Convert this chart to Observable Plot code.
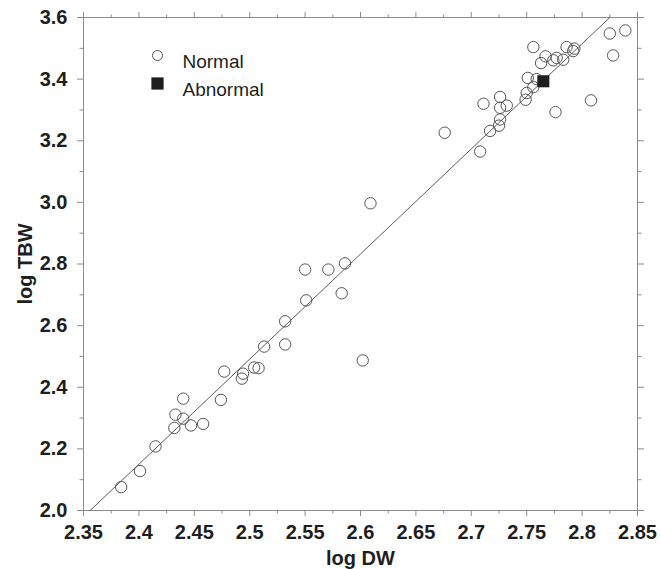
<!DOCTYPE html>
<html>
<head>
<meta charset="utf-8">
<script src="https://cdn.jsdelivr.net/npm/d3@7"></script>
<script src="https://cdn.jsdelivr.net/npm/@observablehq/plot@0.6"></script>
<style>
  html, body { margin: 0; padding: 0; background: #fff; }
  #chart { width: 660px; height: 569px; }
</style>
</head>
<body>
<div id="chart"></div>
<script>
// Normal subjects: log DW and log TBW
const normalDW = [
  2.384, 2.401, 2.415, 2.432, 2.433, 2.440, 2.440, 2.447, 2.458, 2.474,
  2.477, 2.493, 2.494, 2.504, 2.508, 2.513, 2.532, 2.532, 2.551, 2.550,
  2.571, 2.583, 2.586, 2.602, 2.609, 2.676, 2.708, 2.711, 2.717, 2.725,
  2.726, 2.726, 2.726, 2.732, 2.749, 2.750, 2.751, 2.756, 2.756, 2.763,
  2.767, 2.776, 2.774, 2.777, 2.783, 2.786, 2.793, 2.792, 2.808, 2.825,
  2.839, 2.828, 2.759
];
const normalTBW = [
  2.076, 2.128, 2.208, 2.268, 2.311, 2.363, 2.298, 2.276, 2.281, 2.359,
  2.451, 2.428, 2.444, 2.464, 2.462, 2.532, 2.539, 2.614, 2.682, 2.782,
  2.782, 2.705, 2.802, 2.487, 2.997, 3.226, 3.165, 3.320, 3.232, 3.249,
  3.269, 3.307, 3.342, 3.314, 3.333, 3.355, 3.404, 3.374, 3.504, 3.452,
  3.474, 3.293, 3.461, 3.469, 3.463, 3.504, 3.499, 3.491, 3.331, 3.548,
  3.558, 3.477, 3.400
];
// Abnormal subject
const abnormalDW = [2.765];
const abnormalTBW = [3.393];
// Fitted line end points
const fitDW = [2.356, 2.825];
const fitTBW = [2.0, 3.6];

// Ticks
const xMajor = [2.35, 2.4, 2.45, 2.5, 2.55, 2.6, 2.65, 2.7, 2.75, 2.8, 2.85];
const xLabels = ["2.35", "2.4", "2.45", "2.5", "2.55", "2.6", "2.65", "2.7", "2.75", "2.8", "2.85"];
const xMinor = [2.375, 2.425, 2.475, 2.525, 2.575, 2.625, 2.675, 2.725, 2.775, 2.825];
const yMajor = [2.0, 2.2, 2.4, 2.6, 2.8, 3.0, 3.2, 3.4, 3.6];
const yLabels = ["2.0", "2.2", "2.4", "2.6", "2.8", "3.0", "3.2", "3.4", "3.6"];
const yMinor = [2.1, 2.3, 2.5, 2.7, 2.9, 3.1, 3.3, 3.5];

// Legend
const legendLabels = ["Normal", "Abnormal"];

const normal = normalDW.map((d, i) => ({dw: d, tbw: normalTBW[i]}));
const abnormal = abnormalDW.map((d, i) => ({dw: d, tbw: abnormalTBW[i]}));
const fit = fitDW.map((d, i) => ({dw: d, tbw: fitTBW[i]}));

const tickColor = "#8c8c8c";
const textColor = "#1e1e1e";
const xFmt = d => xLabels[xMajor.findIndex(v => Math.abs(v - d) < 1e-9)];
const yFmt = d => yLabels[yMajor.findIndex(v => Math.abs(v - d) < 1e-9)];
const blank = () => "";

const chart = Plot.plot({
  width: 660,
  height: 569,
  marginLeft: 83,
  marginRight: 23,
  marginTop: 17,
  marginBottom: 59,
  x: {domain: [2.35, 2.85]},
  y: {domain: [2.0, 3.6]},
  style: {fontFamily: "'Liberation Sans', Arial, sans-serif", color: textColor, background: "#fff"},
  marks: [
    Plot.frame({stroke: tickColor, strokeWidth: 1}),
    // bottom
    Plot.axisX(xMajor, {anchor: "bottom", tickSize: 6, tickPadding: 8, tickFormat: xFmt, stroke: tickColor,
      fontSize: 20, fontWeight: "bold", label: "log DW", labelAnchor: "center", labelOffset: 54, labelArrow: "none"}),
    Plot.axisX(xMinor, {anchor: "bottom", tickSize: 3.5, tickFormat: blank, stroke: tickColor, label: null}),
    // top
    Plot.axisX(xMajor, {anchor: "top", tickSize: 6, tickFormat: blank, stroke: tickColor, label: null}),
    Plot.axisX(xMinor, {anchor: "top", tickSize: 3.5, tickFormat: blank, stroke: tickColor, label: null}),
    // left
    Plot.axisY(yMajor, {anchor: "left", tickSize: 6, tickPadding: 10, tickFormat: yFmt, stroke: tickColor,
      fontSize: 20, fontWeight: "bold", label: "log TBW", labelAnchor: "center", labelOffset: 66, labelArrow: "none"}),
    Plot.axisY(yMinor, {anchor: "left", tickSize: 3.5, tickFormat: blank, stroke: tickColor, label: null}),
    // right
    Plot.axisY(yMajor, {anchor: "right", tickSize: 6, tickFormat: blank, stroke: tickColor, label: null}),
    Plot.axisY(yMinor, {anchor: "right", tickSize: 3.5, tickFormat: blank, stroke: tickColor, label: null}),
    // fitted line
    Plot.line(fit, {x: "dw", y: "tbw", stroke: "#4a4a4a", strokeWidth: 0.9}),
    // data
    Plot.dot(normal, {x: "dw", y: "tbw", r: 5.7, stroke: "#555", strokeWidth: 1, fill: "none"}),
    Plot.dot(abnormal, {x: "dw", y: "tbw", r: 6.8, symbol: "square", fill: "#1e1e1e", stroke: "none"}),
    // legend
    Plot.dot([legendLabels[0]], {frameAnchor: "top-left", dx: 74, dy: 38, r: 5, stroke: "#555", strokeWidth: 1, fill: "none"}),
    Plot.dot([legendLabels[1]], {frameAnchor: "top-left", dx: 74, dy: 66, r: 6.9, symbol: "square", fill: "#1e1e1e", stroke: "none"}),
    Plot.text([legendLabels[0]], {frameAnchor: "top-left", dx: 99, dy: 37, text: d => d, textAnchor: "start", fontSize: 19, fill: textColor}),
    Plot.text([legendLabels[1]], {frameAnchor: "top-left", dx: 99, dy: 65, text: d => d, textAnchor: "start", fontSize: 19, fill: textColor})
  ]
});
document.getElementById("chart").appendChild(chart);
</script>
</body>
</html>
